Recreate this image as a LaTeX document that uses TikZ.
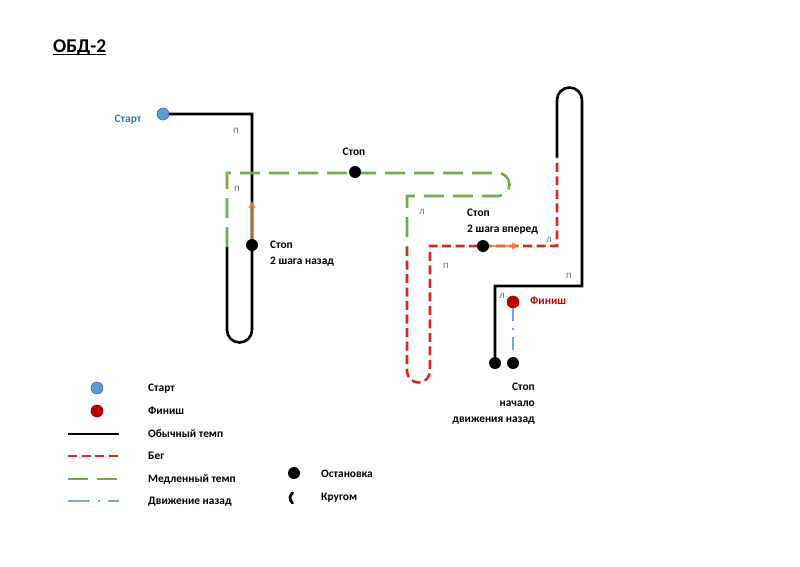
\documentclass[tikz,border=0pt]{standalone}
\usepackage{fontspec}
\setmainfont{Carlito}
\usepackage{tikz}
\usetikzlibrary{arrows.meta}

\definecolor{startblue}{HTML}{5B9BD5}
\definecolor{startedge}{HTML}{41719C}
\definecolor{starttext}{HTML}{2E75B6}
\definecolor{finred}{HTML}{C00000}
\definecolor{runred}{HTML}{D42A2A}
\definecolor{slowgreen}{HTML}{70AD47}
\definecolor{backblue}{HTML}{6FA8D0}
\definecolor{turnorange}{HTML}{ED7D31}
\definecolor{sidegray}{HTML}{7F7F7F}

\begin{document}
\begin{tikzpicture}[x=1pt, y=-1pt,
  walk/.style={line width=2.6pt, black},
  run/.style={line width=2.6pt, runred, dash pattern=on 9pt off 4.5pt},
  slow/.style={line width=2.6pt, slowgreen, dash pattern=on 20pt off 9pt},
  back/.style={line width=2.4pt, backblue, dash pattern=on 13pt off 7pt on 2pt off 7pt},
  stopdot/.style={circle, fill=black, inner sep=0pt, minimum size=12pt},
  startdot/.style={circle, fill=startblue, draw=startedge, line width=0.6pt, inner sep=0pt, minimum size=12pt},
  findot/.style={circle, fill=finred, draw=finred!70!black, line width=0.6pt, inner sep=0pt, minimum size=12pt},
  lbl/.style={font=\bfseries\fontsize{11.4}{16}\selectfont, inner sep=0pt},
  side/.style={font=\fontsize{11}{12}\selectfont, text=sidegray, inner sep=0pt},
  turn/.style={line width=2pt, turnorange, opacity=0.8, -{Triangle[length=7pt,width=7pt]}}]
  \useasboundingbox (0,0) rectangle (800,566);

  % Заголовок
  \node[font=\bfseries\fontsize{19.5}{24}\selectfont, inner sep=0pt, anchor=base west] (title) at (53,52) {ОБД-2};
  \draw[line width=1.6pt] ([yshift=-2.5pt]title.base west) -- ([yshift=-2.5pt]title.base east);

  % Маршрут
  \draw[walk] (163,114) -- (252,114) -- (252,330) arc[start angle=0, end angle=180, radius=12.5] -- (227,247);
  \draw[slow] (227,247) -- (227,173) -- (498,173) arc[start angle=-90, end angle=90, radius=11.5] -- (407,196) -- (407,247);
  \draw[run] (407,247) -- (407,371) arc[start angle=180, end angle=0, radius=11.5] -- (430,246) -- (557,246) -- (557,157);
  \draw[walk] (557,157) -- (557,100) arc[start angle=180, end angle=360, radius=12.5] -- (582,286) -- (495,286) -- (495,363);

  % Развороты на месте
  \draw[turn] (252,243) -- (252,201);
  \draw[turn] (485,246) -- (519,246);

  % Точки
  \node[startdot] (start) at (163,114) {};
  \node[stopdot] (stopA) at (252,245) {};
  \node[stopdot] (stopB) at (355,172) {};
  \node[stopdot] (stopC) at (483,246) {};
  \node[stopdot] (stopD) at (495,363) {};
  \node[stopdot] (stopE) at (513,363) {};
  \node[findot] (fin) at (513,302) {};
  \draw[back] (fin) -- (stopE);

  % Подписи
  \node[lbl, text=starttext, anchor=base] (startlbl) at (128,122.5) {Старт};
  \node[lbl, anchor=base] (stopBlbl) at (354,155.5) {Стоп};
  \node[lbl, align=left, anchor=base west] (stopAlbl) at (270,264.5) {Стоп\\2 шага назад};
  \node[lbl, align=left, anchor=base west] (stopClbl) at (467,232.5) {Стоп\\2 шага вперед};
  \node[lbl, text=finred, anchor=base west] (finlbl) at (530,304.5) {Финиш};
  \node[lbl, align=right, anchor=base east] (stopElbl) at (535,422) {Стоп\\начало\\движения назад};

  \node[side] (s1) at (236,131) {п};
  \node[side] (s2) at (237,189) {п};
  \node[side] (s3) at (422,212) {л};
  \node[side] (s4) at (446,266) {п};
  \node[side] (s5) at (549,240) {л};
  \node[side] (s6) at (569,276) {п};
  \node[side] (s7) at (502,296) {л};

  % Легенда
  \node[startdot] (lgstart) at (97,388) {};
  \node[findot] (lgfin) at (97,411) {};
  \coordinate (lgw1) at (68,434);  \coordinate (lgw2) at (119,434);
  \coordinate (lgr1) at (68,456);  \coordinate (lgr2) at (119,456);
  \coordinate (lgs1) at (68,479);  \coordinate (lgs2) at (119,479);
  \coordinate (lgb1) at (68,501);  \coordinate (lgb2) at (119,501);
  \draw[walk] (lgw1) -- (lgw2);
  \draw[run] (lgr1) -- (lgr2);
  \draw[slow] (lgs1) -- (lgs2);
  \draw[back, dash pattern=on 22pt off 8pt on 2pt off 8pt] (lgb1) -- (lgb2);
  \node[lbl, anchor=base west] (t1) at (148,391.5) {Старт};
  \node[lbl, anchor=base west] (t2) at (148,414) {Финиш};
  \node[lbl, anchor=base west] (t3) at (148,437) {Обычный темп};
  \node[lbl, anchor=base west] (t4) at (148,459.5) {Бег};
  \node[lbl, anchor=base west] (t5) at (148,482.5) {Медленный темп};
  \node[lbl, anchor=base west] (t6) at (148,504.5) {Движение назад};

  \node[stopdot] (lgstop) at (294,473) {};
  \draw[line width=2.8pt, line cap=round] (296,498) ++(125:6) arc[start angle=125, end angle=235, radius=6];
  \node[lbl, anchor=base west] (t7) at (321,477) {Остановка};
  \node[lbl, anchor=base west] (t8) at (321,500) {Кругом};
\end{tikzpicture}
\end{document}
